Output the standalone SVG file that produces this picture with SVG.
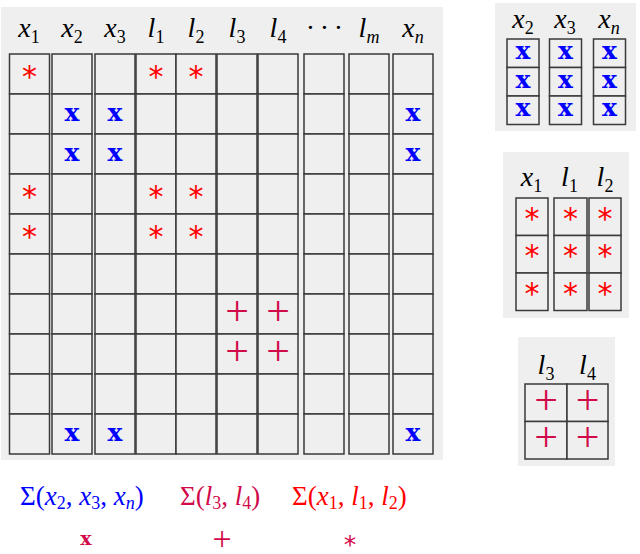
<svg xmlns="http://www.w3.org/2000/svg" width="640" height="554" viewBox="0 0 640 554">
<style>
.panel{fill:#efefef}
.cell{fill:#efefef;stroke:#3a3a3a;stroke-width:1.5}
.m{font-family:"Liberation Serif","DejaVu Serif",serif;font-style:italic;font-size:28px;fill:#000;text-anchor:middle}
.s{font-size:18px;font-style:normal}
.si{font-size:18px;font-style:italic}
.bx{font-family:"DejaVu Serif",serif;font-weight:bold;font-size:25px;fill:#0000ff;text-anchor:middle}
.ast{font-family:"DejaVu Sans",sans-serif;font-size:30px;fill:#ff0000;text-anchor:middle}
.pl{font-family:"Liberation Serif",serif;font-size:42px;fill:#d10a4a;text-anchor:middle}
.lg{font-family:"Liberation Serif","DejaVu Serif",serif;font-size:27px}
.ls{font-size:18px}
</style>
<rect width="640" height="554" fill="#ffffff"/>

<g id="main-grid">
<rect class="panel" x="1" y="7" width="442" height="453"/>
<g id="main-headers">
<text class="m" x="29" y="37">x<tspan class="s" dy="6">1</tspan></text>
<text class="m" x="72" y="37">x<tspan class="s" dy="6">2</tspan></text>
<text class="m" x="115" y="37">x<tspan class="s" dy="6">3</tspan></text>
<text class="m" x="156" y="37">l<tspan class="s" dy="6">1</tspan></text>
<text class="m" x="196" y="37">l<tspan class="s" dy="6">2</tspan></text>
<text class="m" x="237" y="37">l<tspan class="s" dy="6">3</tspan></text>
<text class="m" x="278" y="37">l<tspan class="s" dy="6">4</tspan></text>
<text class="m" x="324" y="37" font-style="normal">· · ·</text>
<text class="m" x="369" y="37">l<tspan class="si" dy="6">m</tspan></text>
<text class="m" x="413" y="37">x<tspan class="si" dy="6">n</tspan></text>
</g>
<g id="main-cells">
<g id="col-x1"><rect class="cell" x="9.5" y="54" width="40" height="40"/><rect class="cell" x="9.5" y="94" width="40" height="40"/><rect class="cell" x="9.5" y="134" width="40" height="40"/><rect class="cell" x="9.5" y="174" width="40" height="40"/><rect class="cell" x="9.5" y="214" width="40" height="40"/><rect class="cell" x="9.5" y="254" width="40" height="40"/><rect class="cell" x="9.5" y="294" width="40" height="40"/><rect class="cell" x="9.5" y="334" width="40" height="40"/><rect class="cell" x="9.5" y="374" width="40" height="40"/><rect class="cell" x="9.5" y="414" width="40" height="40"/></g>
<g id="col-x2"><rect class="cell" x="52" y="54" width="40" height="40"/><rect class="cell" x="52" y="94" width="40" height="40"/><rect class="cell" x="52" y="134" width="40" height="40"/><rect class="cell" x="52" y="174" width="40" height="40"/><rect class="cell" x="52" y="214" width="40" height="40"/><rect class="cell" x="52" y="254" width="40" height="40"/><rect class="cell" x="52" y="294" width="40" height="40"/><rect class="cell" x="52" y="334" width="40" height="40"/><rect class="cell" x="52" y="374" width="40" height="40"/><rect class="cell" x="52" y="414" width="40" height="40"/></g>
<g id="col-x3"><rect class="cell" x="95" y="54" width="40" height="40"/><rect class="cell" x="95" y="94" width="40" height="40"/><rect class="cell" x="95" y="134" width="40" height="40"/><rect class="cell" x="95" y="174" width="40" height="40"/><rect class="cell" x="95" y="214" width="40" height="40"/><rect class="cell" x="95" y="254" width="40" height="40"/><rect class="cell" x="95" y="294" width="40" height="40"/><rect class="cell" x="95" y="334" width="40" height="40"/><rect class="cell" x="95" y="374" width="40" height="40"/><rect class="cell" x="95" y="414" width="40" height="40"/></g>
<g id="col-l1"><rect class="cell" x="136" y="54" width="40" height="40"/><rect class="cell" x="136" y="94" width="40" height="40"/><rect class="cell" x="136" y="134" width="40" height="40"/><rect class="cell" x="136" y="174" width="40" height="40"/><rect class="cell" x="136" y="214" width="40" height="40"/><rect class="cell" x="136" y="254" width="40" height="40"/><rect class="cell" x="136" y="294" width="40" height="40"/><rect class="cell" x="136" y="334" width="40" height="40"/><rect class="cell" x="136" y="374" width="40" height="40"/><rect class="cell" x="136" y="414" width="40" height="40"/></g>
<g id="col-l2"><rect class="cell" x="176" y="54" width="40" height="40"/><rect class="cell" x="176" y="94" width="40" height="40"/><rect class="cell" x="176" y="134" width="40" height="40"/><rect class="cell" x="176" y="174" width="40" height="40"/><rect class="cell" x="176" y="214" width="40" height="40"/><rect class="cell" x="176" y="254" width="40" height="40"/><rect class="cell" x="176" y="294" width="40" height="40"/><rect class="cell" x="176" y="334" width="40" height="40"/><rect class="cell" x="176" y="374" width="40" height="40"/><rect class="cell" x="176" y="414" width="40" height="40"/></g>
<g id="col-l3"><rect class="cell" x="217" y="54" width="40" height="40"/><rect class="cell" x="217" y="94" width="40" height="40"/><rect class="cell" x="217" y="134" width="40" height="40"/><rect class="cell" x="217" y="174" width="40" height="40"/><rect class="cell" x="217" y="214" width="40" height="40"/><rect class="cell" x="217" y="254" width="40" height="40"/><rect class="cell" x="217" y="294" width="40" height="40"/><rect class="cell" x="217" y="334" width="40" height="40"/><rect class="cell" x="217" y="374" width="40" height="40"/><rect class="cell" x="217" y="414" width="40" height="40"/></g>
<g id="col-l4"><rect class="cell" x="258" y="54" width="40" height="40"/><rect class="cell" x="258" y="94" width="40" height="40"/><rect class="cell" x="258" y="134" width="40" height="40"/><rect class="cell" x="258" y="174" width="40" height="40"/><rect class="cell" x="258" y="214" width="40" height="40"/><rect class="cell" x="258" y="254" width="40" height="40"/><rect class="cell" x="258" y="294" width="40" height="40"/><rect class="cell" x="258" y="334" width="40" height="40"/><rect class="cell" x="258" y="374" width="40" height="40"/><rect class="cell" x="258" y="414" width="40" height="40"/></g>
<g id="col-dots"><rect class="cell" x="304" y="54" width="40" height="40"/><rect class="cell" x="304" y="94" width="40" height="40"/><rect class="cell" x="304" y="134" width="40" height="40"/><rect class="cell" x="304" y="174" width="40" height="40"/><rect class="cell" x="304" y="214" width="40" height="40"/><rect class="cell" x="304" y="254" width="40" height="40"/><rect class="cell" x="304" y="294" width="40" height="40"/><rect class="cell" x="304" y="334" width="40" height="40"/><rect class="cell" x="304" y="374" width="40" height="40"/><rect class="cell" x="304" y="414" width="40" height="40"/></g>
<g id="col-lm"><rect class="cell" x="349" y="54" width="40" height="40"/><rect class="cell" x="349" y="94" width="40" height="40"/><rect class="cell" x="349" y="134" width="40" height="40"/><rect class="cell" x="349" y="174" width="40" height="40"/><rect class="cell" x="349" y="214" width="40" height="40"/><rect class="cell" x="349" y="254" width="40" height="40"/><rect class="cell" x="349" y="294" width="40" height="40"/><rect class="cell" x="349" y="334" width="40" height="40"/><rect class="cell" x="349" y="374" width="40" height="40"/><rect class="cell" x="349" y="414" width="40" height="40"/></g>
<g id="col-xn"><rect class="cell" x="393" y="54" width="40" height="40"/><rect class="cell" x="393" y="94" width="40" height="40"/><rect class="cell" x="393" y="134" width="40" height="40"/><rect class="cell" x="393" y="174" width="40" height="40"/><rect class="cell" x="393" y="214" width="40" height="40"/><rect class="cell" x="393" y="254" width="40" height="40"/><rect class="cell" x="393" y="294" width="40" height="40"/><rect class="cell" x="393" y="334" width="40" height="40"/><rect class="cell" x="393" y="374" width="40" height="40"/><rect class="cell" x="393" y="414" width="40" height="40"/></g>
</g>
<g id="main-marks">
<text class="ast" x="29.5" y="87">*</text><text class="ast" x="156" y="87">*</text><text class="ast" x="196" y="87">*</text>
<text class="ast" x="29.5" y="207">*</text><text class="ast" x="156" y="207">*</text><text class="ast" x="196" y="207">*</text>
<text class="ast" x="29.5" y="247">*</text><text class="ast" x="156" y="247">*</text><text class="ast" x="196" y="247">*</text>
<text class="bx" x="72" y="121">x</text><text class="bx" x="115" y="121">x</text><text class="bx" x="413" y="121">x</text>
<text class="bx" x="72" y="161">x</text><text class="bx" x="115" y="161">x</text><text class="bx" x="413" y="161">x</text>
<text class="bx" x="72" y="441">x</text><text class="bx" x="115" y="441">x</text><text class="bx" x="413" y="441">x</text>
<text class="pl" x="237" y="324.5">+</text><text class="pl" x="278" y="324.5">+</text>
<text class="pl" x="237" y="364.5">+</text><text class="pl" x="278" y="364.5">+</text>
</g>
</g>

<g id="panel-x">
<rect class="panel" x="495" y="3" width="141" height="128"/>
<text class="m" x="523" y="28">x<tspan class="s" dy="6">2</tspan></text>
<text class="m" x="565" y="28">x<tspan class="s" dy="6">3</tspan></text>
<text class="m" x="609" y="28">x<tspan class="si" dy="6">n</tspan></text>
<rect class="cell" x="507" y="39" width="32" height="28.5"/><rect class="cell" x="507" y="67.5" width="32" height="28.5"/><rect class="cell" x="507" y="96" width="32" height="28.5"/>
<rect class="cell" x="549.5" y="39" width="32" height="28.5"/><rect class="cell" x="549.5" y="67.5" width="32" height="28.5"/><rect class="cell" x="549.5" y="96" width="32" height="28.5"/>
<rect class="cell" x="593.5" y="39" width="32" height="28.5"/><rect class="cell" x="593.5" y="67.5" width="32" height="28.5"/><rect class="cell" x="593.5" y="96" width="32" height="28.5"/>
<text class="bx" x="523" y="59">x</text><text class="bx" x="565.5" y="59">x</text><text class="bx" x="609.5" y="59">x</text>
<text class="bx" x="523" y="87.5">x</text><text class="bx" x="565.5" y="87.5">x</text><text class="bx" x="609.5" y="87.5">x</text>
<text class="bx" x="523" y="116">x</text><text class="bx" x="565.5" y="116">x</text><text class="bx" x="609.5" y="116">x</text>
</g>

<g id="panel-star">
<rect class="panel" x="503" y="152" width="126" height="166"/>
<text class="m" x="531.5" y="186">x<tspan class="s" dy="6">1</tspan></text>
<text class="m" x="569.5" y="186">l<tspan class="s" dy="6">1</tspan></text>
<text class="m" x="605" y="186">l<tspan class="s" dy="6">2</tspan></text>
<rect class="cell" x="516" y="198" width="32" height="37.5"/><rect class="cell" x="516" y="235.5" width="32" height="37.5"/><rect class="cell" x="516" y="273" width="32" height="37.5"/>
<rect class="cell" x="554" y="198" width="33" height="37.5"/><rect class="cell" x="554" y="235.5" width="33" height="37.5"/><rect class="cell" x="554" y="273" width="33" height="37.5"/>
<rect class="cell" x="589" y="198" width="32" height="37.5"/><rect class="cell" x="589" y="235.5" width="32" height="37.5"/><rect class="cell" x="589" y="273" width="32" height="37.5"/>
<text class="ast" x="532" y="228.5">*</text><text class="ast" x="570.5" y="228.5">*</text><text class="ast" x="605" y="228.5">*</text>
<text class="ast" x="532" y="266">*</text><text class="ast" x="570.5" y="266">*</text><text class="ast" x="605" y="266">*</text>
<text class="ast" x="532" y="303.5">*</text><text class="ast" x="570.5" y="303.5">*</text><text class="ast" x="605" y="303.5">*</text>
</g>

<g id="panel-plus">
<rect class="panel" x="518" y="337" width="97" height="129"/>
<text class="m" x="546" y="374">l<tspan class="s" dy="6">3</tspan></text>
<text class="m" x="587.5" y="374">l<tspan class="s" dy="6">4</tspan></text>
<rect class="cell" x="525" y="384" width="42" height="37.5"/><rect class="cell" x="567" y="384" width="41" height="37.5"/>
<rect class="cell" x="525" y="421.5" width="42" height="37.5"/><rect class="cell" x="567" y="421.5" width="41" height="37.5"/>
<text class="pl" x="546" y="413.5">+</text><text class="pl" x="587.5" y="413.5">+</text>
<text class="pl" x="546" y="451">+</text><text class="pl" x="587.5" y="451">+</text>
</g>

<g id="legend">
<text class="lg" x="20" y="505" fill="#0000ff">Σ(<tspan font-style="italic">x</tspan><tspan class="ls" dy="4">2</tspan><tspan dy="-4">, </tspan><tspan font-style="italic">x</tspan><tspan class="ls" dy="4">3</tspan><tspan dy="-4">, </tspan><tspan font-style="italic">x</tspan><tspan class="ls" font-style="italic" dy="4">n</tspan><tspan dy="-4">)</tspan></text>
<text class="lg" x="180" y="505" fill="#d10a4a">Σ(<tspan font-style="italic">l</tspan><tspan class="ls" dy="4">3</tspan><tspan dy="-4">, </tspan><tspan font-style="italic">l</tspan><tspan class="ls" dy="4">4</tspan><tspan dy="-4">)</tspan></text>
<text class="lg" x="292" y="505" fill="#ff0000">Σ(<tspan font-style="italic">x</tspan><tspan class="ls" dy="4">1</tspan><tspan dy="-4">, </tspan><tspan font-style="italic">l</tspan><tspan class="ls" dy="4">1</tspan><tspan dy="-4">, </tspan><tspan font-style="italic">l</tspan><tspan class="ls" dy="4">2</tspan><tspan dy="-4">)</tspan></text>
<text x="86" y="545" font-family="DejaVu Serif, serif" font-weight="bold" font-size="19" fill="#d10a4a" text-anchor="middle">x</text>
<text x="222" y="550" font-family="Liberation Serif, serif" font-size="34" fill="#d10a4a" text-anchor="middle">+</text>
<text x="350" y="553" font-family="DejaVu Sans, sans-serif" font-size="25" fill="#d10a4a" text-anchor="middle">*</text>
</g>
<g id="connectors"/>
</svg>
